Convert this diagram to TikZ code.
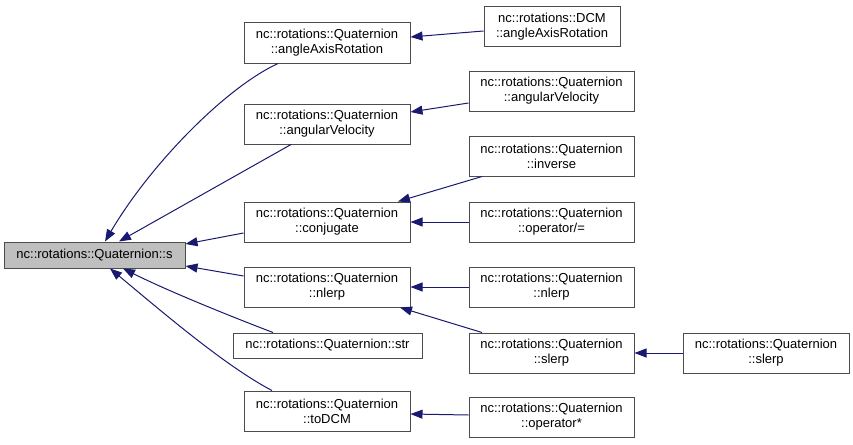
\documentclass[tikz,border=0pt]{standalone}
\usepackage{fontspec}
\setmainfont{Liberation Sans}
\usetikzlibrary{arrows.meta,calc}
\definecolor{edgeblue}{RGB}{25,25,112}
\begin{document}
\begin{tikzpicture}[x=1pt,y=-1pt,
  box/.style={draw=black!70, line width=1pt, fill=white, inner sep=0pt, align=center,
    font=\fontsize{13}{15}\selectfont, minimum height=40pt, minimum width=166pt},
  mainbox/.style={box, fill=black!25, minimum height=26pt, minimum width=181pt},
  edge/.style={draw=edgeblue, line width=1pt, -{Triangle[length=12pt,width=9pt]}}]
\useasboundingbox (0,0) rectangle (853,444);
% nodes
\node[mainbox] (main) at (94.5,255) {nc::rotations::Quaternion::s};
\node[box] (A1) at (327,43) {nc::rotations::Quaternion\\::angleAxisRotation};
\node[box] (A2) at (327,124) {nc::rotations::Quaternion\\::angularVelocity};
\node[box] (A3) at (327,222) {nc::rotations::Quaternion\\::conjugate};
\node[box] (A4) at (327,287) {nc::rotations::Quaternion\\::nlerp};
\node[box, minimum width=189pt, minimum height=25pt] (A5) at (327.5,345.5) {nc::rotations::Quaternion::str};
\node[box] (A6) at (327,411) {nc::rotations::Quaternion\\::toDCM};
\node[box, minimum width=136pt] (B1) at (552,27) {nc::rotations::DCM\\::angleAxisRotation};
\node[box, minimum width=165pt] (B2) at (551.5,91) {nc::rotations::Quaternion\\::angularVelocity};
\node[box, minimum width=165pt] (B3) at (551.5,156) {nc::rotations::Quaternion\\::inverse};
\node[box, minimum width=165pt] (B4) at (551.5,222) {nc::rotations::Quaternion\\::operator/=};
\node[box, minimum width=165pt] (B5) at (551.5,287) {nc::rotations::Quaternion\\::nlerp};
\node[box, minimum width=165pt] (B6) at (551.5,353) {nc::rotations::Quaternion\\::slerp};
\node[box, minimum width=165pt] (B7) at (551.5,417) {nc::rotations::Quaternion\\::operator*};
\node[box] (C1) at (766,353) {nc::rotations::Quaternion\\::slerp};
% edges
\draw[edge] ($(A1.south)+(-49,0)$) .. controls (225,88) and (150,165) .. ($(main.north)+(10.5,0)$);
\draw[edge] ($(A2.south)+(-36,0)$) -- ($(main.north)+(24.5,0)$);
\draw[edge] ($(A3.west)+(0,11)$) -- ($(main.east)+(0,-11)$);
\draw[edge] ($(A4.west)+(0,-11)$) -- ($(main.east)+(0,11)$);
\draw[edge] ($(A5.north)+(-54.5,0)$) .. controls (235,318) and (170,292) .. ($(main.south)+(28.5,0)$);
\draw[edge] ($(A6.north)+(-55,0)$) .. controls (225,366) and (160,310) .. ($(main.south)+(15.5,0)$);
\draw[edge] ($(B1.west)+(0,4)$) -- ($(A1.east)+(0,-6)$);
\draw[edge] ($(B2.west)+(0,12)$) -- ($(A2.east)+(0,-12)$);
\draw[edge] ($(B3.south)+(-69.5,0)$) -- ($(A3.north)+(71,0)$);
\draw[edge] (B4.west) -- (A3.east);
\draw[edge] (B5.west) -- (A4.east);
\draw[edge] ($(B6.north)+(-69.5,0)$) -- ($(A4.south)+(73,0)$);
\draw[edge] ($(B7.west)+(0,-2)$) -- ($(A6.east)+(0,3)$);
\draw[edge] (C1.west) -- (B6.east);
\end{tikzpicture}
\end{document}
